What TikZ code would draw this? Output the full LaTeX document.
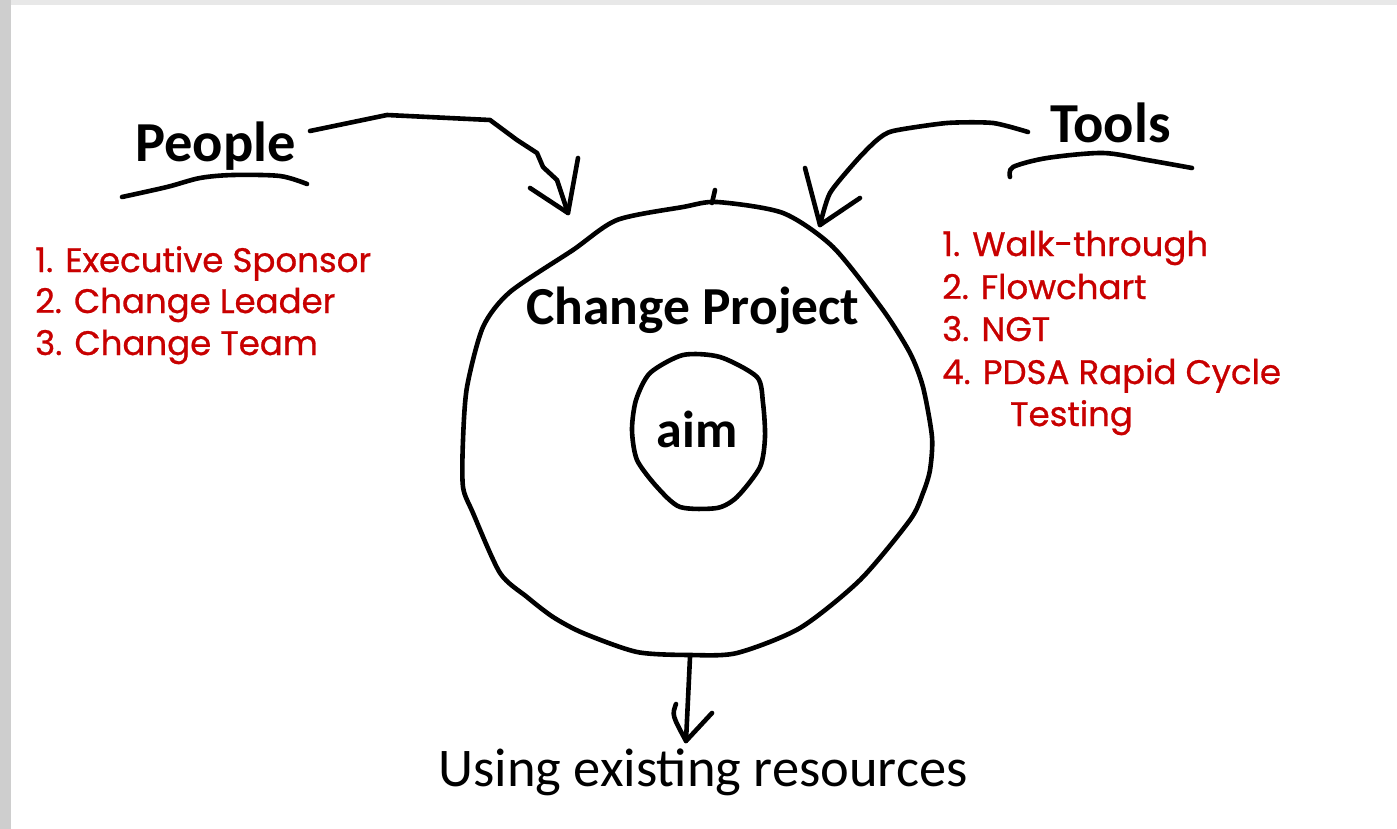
\documentclass[tikz,border=0pt]{standalone}
\usepackage{fontspec}
\setmainfont{Carlito}
\newfontfamily\handfont[FakeBold=0.8]{Poppins}
\definecolor{listred}{RGB}{200,0,0}
\definecolor{stripgray}{RGB}{232,232,232}
\definecolor{leftgray}{RGB}{206,206,206}
\tikzset{
  sketch/.style={line width=4.6pt, line cap=round, line join=round, black},
  head/.style={font=\bfseries\fontsize{56.5}{60}\selectfont, anchor=base west, inner sep=0pt},
  redline/.style={font=\handfont\fontsize{34}{38}\selectfont, text=listred, anchor=base west, inner sep=0pt},
}
\begin{document}
\begin{tikzpicture}[x=1pt,y=-1pt]
\useasboundingbox (0,0) rectangle (1397,829);
% page and frame strips
\fill[white] (0,0) rectangle (1397,829);
\fill[stripgray] (0,0) rectangle (1397,5);
\fill[leftgray] (0,0) rectangle (11,829);

% headings
\node[head] (people) at (135,162) {People};
\node[head] (tools) at (1050,143) {Tools};

% people list
\node[redline] (p1) at (35,272) {1. Executive Sponsor};
\node[redline] (p2) at (35,313) {2. Change Leader};
\node[redline] (p3) at (35,355) {3. Change Team};

% tools list
\node[redline] (t1) at (942,256) {1. Walk-through};
\node[redline] (t2) at (942,299) {2. Flowchart};
\node[redline] (t3) at (942,341) {3. NGT};
\node[redline] (t4) at (942,384) {4. PDSA Rapid Cycle};
\node[redline] (t5) at (1010,426) {Testing};

% project circle
\draw[sketch] plot[smooth cycle, tension=0.45] coordinates {
 (683,207) (717,202) (783,213) (833,247) (883,310) (910,353) (923,387)
 (932,437) (930,470) (923,493) (910,520) (860,580) (800,628) (737,653)
 (690,655) (637,652) (583,633) (553,617) (527,597) (500,573) (473,513)
 (463,487) (463,440) (467,387) (483,327) (510,292) (573,250) (617,220)};
\draw[sketch] (715,190) -- (712,203);
\node[font=\bfseries\fontsize{53.5}{56}\selectfont, anchor=base, inner sep=0pt] (projlabel) at (693,324) {Change Project};

% aim circle
\draw[sketch] plot[smooth cycle, tension=0.45] coordinates {
 (683,355) (720,357) (757,377) (763,403) (765,437) (760,467) (737,497)
 (717,508) (680,507) (657,487) (637,460) (632,430) (636,400) (650,373)};
\node[font=\bfseries\fontsize{52}{56}\selectfont, anchor=base, inner sep=0pt] (aim) at (697,447) {aim};

% result text
\node[font=\fontsize{54.5}{58}\selectfont, anchor=base, inner sep=0pt] (result) at (703,786) {Using existing resources};

% people arrow
\coordinate (pA) at (310,131);
\coordinate (pTip) at (568,213);
\draw[sketch] (pA) -- (387,115) -- (490,120) -- (517,140) -- (537,153) -- (543,167) -- (557,180) -- (pTip);
\draw[sketch] (530,188) -- (pTip) -- (578,158);

% people underline
\draw[sketch] plot[smooth, tension=0.5] coordinates {(122,197) (167,187) (200,178) (233,175) (280,176) (307,184)};

% tools arrow
\coordinate (tA) at (1028,132);
\coordinate (tTip) at (820,225);
\draw[sketch] plot[smooth, tension=0.4] coordinates {(tA) (993,123) (947,123) (893,131) (877,140) (857,160) (830,193) (tTip)};
\draw[sketch] (805,168) -- (tTip) -- (860,198);

% tools underline
\draw[sketch] plot[smooth, tension=0.5] coordinates {(1010,177) (1013,167) (1047,158) (1103,153) (1147,160) (1192,168)};

% result arrow
\coordinate (rA) at (690,657);
\coordinate (rTip) at (686,741);
\draw[sketch] (rA) -- (rTip);
\draw[sketch] (676,704) .. controls (672,715) .. (rTip) -- (712,713);
\end{tikzpicture}
\end{document}
